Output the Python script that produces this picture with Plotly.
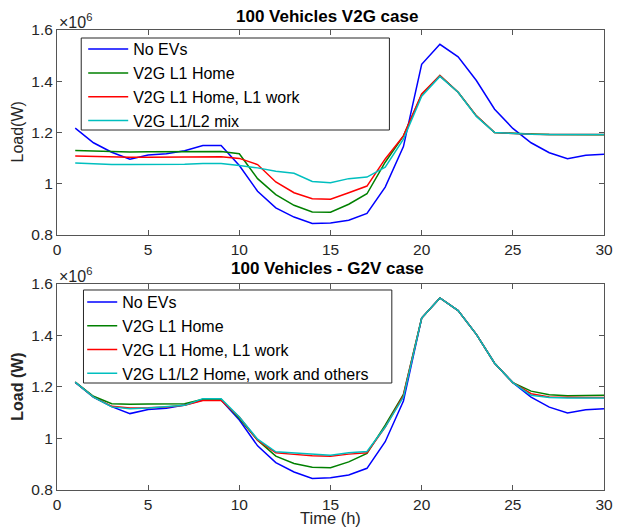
import plotly.graph_objects as go

# ---- data (load in units of 10^6 W) ----
hours = list(range(1, 31))

no_evs = [1.217, 1.160, 1.123, 1.096, 1.112, 1.117, 1.129, 1.149, 1.149, 1.071,
          0.971, 0.906, 0.870, 0.845, 0.847, 0.858, 0.884, 0.987, 1.145, 1.466,
          1.544, 1.495, 1.403, 1.291, 1.216, 1.160, 1.121, 1.098, 1.111, 1.115]

# top: V2G case
v2g_l1_home = [1.130, 1.128, 1.125, 1.124, 1.125, 1.125, 1.125, 1.126, 1.126, 1.117,
               1.020, 0.958, 0.916, 0.890, 0.889, 0.920, 0.961, 1.084, 1.187, 1.348,
               1.422, 1.357, 1.265, 1.200, 1.196, 1.194, 1.192, 1.191, 1.191, 1.191]
v2g_l1_home_work = [1.108, 1.106, 1.105, 1.103, 1.103, 1.103, 1.103, 1.105, 1.105, 1.099,
                    1.075, 1.007, 0.965, 0.942, 0.940, 0.965, 0.991, 1.097, 1.187, 1.351,
                    1.422, 1.357, 1.265, 1.200, 1.196, 1.193, 1.192, 1.192, 1.192, 1.192]
v2g_mix = [1.081, 1.077, 1.075, 1.075, 1.075, 1.076, 1.076, 1.079, 1.079, 1.071,
           1.062, 1.049, 1.041, 1.009, 1.004, 1.020, 1.026, 1.065, 1.174, 1.342,
           1.419, 1.357, 1.263, 1.200, 1.196, 1.193, 1.192, 1.192, 1.192, 1.192]

# bottom: G2V case
g2v_l1_home = [1.218, 1.163, 1.134, 1.132, 1.133, 1.134, 1.134, 1.152, 1.152, 1.077,
               0.993, 0.931, 0.903, 0.888, 0.886, 0.909, 0.942, 1.051, 1.170, 1.466,
               1.544, 1.495, 1.403, 1.291, 1.216, 1.183, 1.169, 1.165, 1.167, 1.167]
g2v_l1_home_work = [1.218, 1.160, 1.124, 1.118, 1.119, 1.122, 1.128, 1.147, 1.147, 1.083,
                    0.993, 0.944, 0.938, 0.933, 0.931, 0.939, 0.944, 1.044, 1.166, 1.466,
                    1.544, 1.495, 1.403, 1.291, 1.216, 1.173, 1.160, 1.158, 1.158, 1.158]
g2v_all = [1.218, 1.160, 1.122, 1.115, 1.118, 1.122, 1.128, 1.154, 1.154, 1.083,
           0.997, 0.948, 0.944, 0.940, 0.935, 0.944, 0.949, 1.044, 1.160, 1.466,
           1.544, 1.495, 1.403, 1.291, 1.216, 1.167, 1.158, 1.156, 1.156, 1.156]

top_names = ["No EVs", "V2G L1 Home", "V2G L1 Home, L1 work", "V2G L1/L2 mix"]
bottom_names = ["No EVs", "V2G L1 Home", "V2G L1 Home, L1 work", "V2G L1/L2 Home, work and others"]
colors = ["#0000FF", "#008000", "#FF0000", "#00BFBF"]

x_ticks = [0, 5, 10, 15, 20, 25, 30]
y_ticks = [0.8, 1.0, 1.2, 1.4, 1.6]
y_ticktext = ["0.8", "1", "1.2", "1.4", "1.6"]

FONT = "Liberation Sans, Arial, Helvetica, sans-serif"
AX = "#262626"

fig = go.Figure()

for name, ys, c in zip(top_names, [no_evs, v2g_l1_home, v2g_l1_home_work, v2g_mix], colors):
    fig.add_trace(go.Scatter(x=hours, y=ys, mode="lines", name=name,
                             line=dict(color=c, width=1.5),
                             xaxis="x", yaxis="y", legend="legend"))

for name, ys, c in zip(bottom_names, [no_evs, g2v_l1_home, g2v_l1_home_work, g2v_all], colors):
    fig.add_trace(go.Scatter(x=hours, y=ys, mode="lines", name=name,
                             line=dict(color=c, width=1.5),
                             xaxis="x2", yaxis="y2", legend="legend2"))

axis_common = dict(showline=True, linecolor="#555555", linewidth=1, mirror="ticks",
                   ticks="inside", ticklen=5, tickcolor="#555555", showgrid=False,
                   zeroline=False, tickfont=dict(family=FONT, size=15.5, color=AX))

TOP_DOM = [0.5543, 1]
BOT_DOM = [0, 0.4489]

fig.update_layout(
    width=615, height=521,
    margin=dict(l=49.4, r=10.1, t=22, b=39),
    plot_bgcolor="white", paper_bgcolor="white",
    font=dict(family=FONT, size=16, color=AX),
    showlegend=True,
    xaxis=dict(domain=[0, 1], range=[0, 30], tickvals=x_ticks, anchor="y", **axis_common),
    yaxis=dict(domain=TOP_DOM, range=[0.8, 1.6], tickvals=y_ticks, ticktext=y_ticktext,
               anchor="x", **axis_common),
    xaxis2=dict(domain=[0, 1], range=[0, 30], tickvals=x_ticks, anchor="y2", **axis_common),
    yaxis2=dict(domain=BOT_DOM, range=[0.8, 1.6], tickvals=y_ticks, ticktext=y_ticktext,
                anchor="x2", **axis_common),
    legend=dict(x=0.0479, y=0.9952, xanchor="left", yanchor="top", bgcolor="rgba(0,0,0,0)",
                borderwidth=0, itemwidth=40, tracegroupgap=0,
                font=dict(family=FONT, size=16, color="#000000")),
    legend2=dict(x=0.0461, y=0.4456, xanchor="left", yanchor="top", bgcolor="rgba(0,0,0,0)",
                 borderwidth=0, itemwidth=30, tracegroupgap=0,
                 font=dict(family=FONT, size=16, color="#000000")),
    shapes=[
        dict(type="rect", xref="paper", yref="paper", x0=0.0443, x1=0.6077, y0=0.7826, y1=0.9826,
             line=dict(color="#262626", width=1), fillcolor="white", layer="below"),
        dict(type="rect", xref="paper", yref="paper", x0=0.0484, x1=0.6121, y0=0.2326, y1=0.4348,
             line=dict(color="#262626", width=1), fillcolor="white", layer="below"),
    ],
    annotations=[
        dict(text="<b>100 Vehicles V2G case</b>", x=0.494, y=TOP_DOM[1], xref="paper", yref="paper",
             yshift=14, xanchor="center", yanchor="middle", showarrow=False,
             font=dict(family=FONT, size=17, color="#000000")),
        dict(text="<b>100 Vehicles - G2V case</b>", x=0.494, y=BOT_DOM[1], xref="paper", yref="paper",
             yshift=15, xanchor="center", yanchor="middle", showarrow=False,
             font=dict(family=FONT, size=17, color="#000000")),
        dict(text="×10<sup>6</sup>", x=0, y=TOP_DOM[1], xref="paper", yref="paper", xanchor="left",
             yanchor="bottom", yshift=-3.5, showarrow=False, font=dict(family=FONT, size=16, color=AX)),
        dict(text="×10<sup>6</sup>", x=0, y=BOT_DOM[1], xref="paper", yref="paper", xanchor="left",
             yanchor="bottom", yshift=-3.5, showarrow=False, font=dict(family=FONT, size=16, color=AX)),
        dict(text="Load(W)", x=0, y=(TOP_DOM[0] + TOP_DOM[1]) / 2, xref="paper", yref="paper",
             xshift=-39, xanchor="center", yanchor="middle", textangle=-90, showarrow=False,
             font=dict(family=FONT, size=16, color=AX)),
        dict(text="<b>Load (W)</b>", x=0, y=(BOT_DOM[0] + BOT_DOM[1]) / 2, xref="paper", yref="paper",
             xshift=-39, xanchor="center", yanchor="middle", textangle=-90, showarrow=False,
             font=dict(family=FONT, size=16, color=AX)),
        dict(text="Time (h)", x=0.5, y=0, xref="paper", yref="paper", yshift=-28,
             xanchor="center", yanchor="middle", showarrow=False,
             font=dict(family=FONT, size=16.5, color=AX)),
    ],
)

fig.write_html("out.html")
